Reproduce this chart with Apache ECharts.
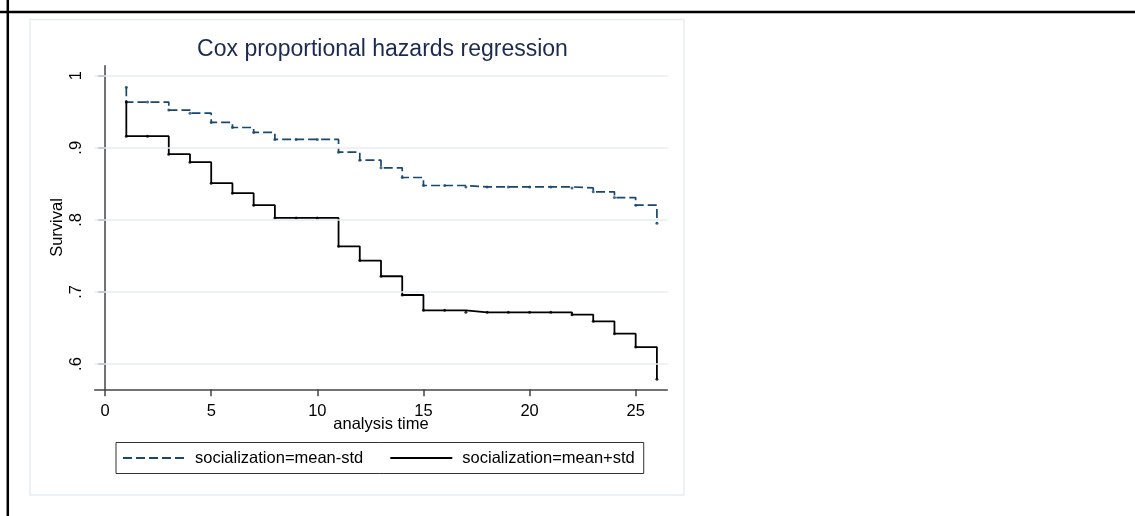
<!DOCTYPE html>
<html>
<head>
    <meta charset="UTF-8">
    <title>Cox proportional hazards regression</title>
    <script type="text/javascript" src="https://cdn.jsdelivr.net/npm/echarts@6/dist/echarts.min.js"></script>
    <style type="text/css">
        html, body { margin: 0; padding: 0; background: #fff; }
        #main { width: 1135px; height: 516px; }
    </style>
</head>
<body>
    <div id="main"></div>

    <script>
    // analysis time of each step point (1 appears twice: start value and first drop)
    var times = [1, 1, 2, 3, 4, 5, 6, 7, 8, 9, 10, 11, 12, 13, 14, 15, 16, 17, 18, 19, 20, 21, 22, 23, 24, 25, 26];
    // socialization=mean-std
    var survLow = [0.984, 0.9634, 0.9634, 0.9523, 0.9481, 0.9352, 0.9282, 0.9213, 0.9116, 0.9116, 0.9116, 0.894, 0.8829, 0.8722,
        0.8588, 0.8477, 0.8477, 0.8458, 0.8458, 0.8458, 0.8458, 0.8458, 0.8444, 0.8389, 0.831, 0.8204, 0.7954];
    // socialization=mean+std
    var survHigh = [0.9634, 0.9162, 0.9162, 0.8912, 0.8801, 0.8509, 0.837, 0.8204, 0.8028, 0.8028, 0.8028, 0.7634, 0.7435, 0.7218,
        0.6958, 0.6745, 0.6745, 0.6718, 0.6718, 0.6718, 0.6718, 0.6718, 0.6685, 0.6593, 0.6421, 0.6236, 0.579];
    var seriesNames = ['socialization=mean-std', 'socialization=mean+std'];
    var xTicks = [0, 5, 10, 15, 20, 25];
    var yTicks = [0.6, 0.7, 0.8, 0.9, 1];

    var font = '"Liberation Sans", Arial, sans-serif';
    var navy = '#1a476f';

    function pairs(ys) {
        return times.map(function (t, i) { return [t, ys[i]]; });
    }

    var myChart = echarts.init(document.getElementById('main'));

    var option = {
        animation: false,
        backgroundColor: '#fff',
        title: {
            text: 'Cox proportional hazards regression',
            left: 377.5,
            top: 33,
            textAlign: 'center',
            textStyle: { fontFamily: font, fontSize: 23, fontWeight: 'normal', color: '#1c2a52' }
        },
        graphic: [
            // faint graph region border
            { type: 'rect', shape: { x: 30, y: 19.5, width: 654, height: 475.5 },
              style: { fill: null, stroke: '#e6eef0', lineWidth: 1.5 }, z: 0 },
            // black frame
            { type: 'line', shape: { x1: 0, y1: 12, x2: 1135, y2: 12 }, style: { stroke: '#000', lineWidth: 2.5 } },
            { type: 'line', shape: { x1: 7.8, y1: 0, x2: 7.8, y2: 516 }, style: { stroke: '#000', lineWidth: 2.5 } }
        ],
        grid: { left: 94.7, right: 467.7, top: 65.7, bottom: 126.7, containLabel: false },
        legend: {
            data: seriesNames,
            left: 116,
            top: 442.5,
            padding: [7, 9, 7, 6],
            itemWidth: 62,
            itemHeight: 14,
            itemGap: 26,
            borderColor: '#333',
            borderWidth: 1,
            backgroundColor: '#fff',
            itemStyle: { opacity: 0 },
            textStyle: { fontFamily: font, fontSize: 16.5, color: '#000', padding: [0, 0, 0, 5] }
        },
        xAxis: {
            type: 'value',
            min: -0.49,
            max: 26.49,
            name: 'analysis time',
            nameLocation: 'middle',
            nameGap: 27,
            nameMoveOverlap: false,
            nameTextStyle: { fontFamily: font, fontSize: 16.5, color: '#000' },
            axisLine: { lineStyle: { color: '#444', width: 1.5 } },
            axisTick: { length: 7, customValues: xTicks, lineStyle: { color: '#444', width: 1.5 } },
            axisLabel: { customValues: xTicks, margin: 14, fontFamily: font, fontSize: 16.5, color: '#000' },
            splitLine: { show: false }
        },
        yAxis: {
            type: 'value',
            min: 0.565,
            max: 1.0139,
            name: 'Survival',
            nameLocation: 'middle',
            nameGap: 29,
            nameMoveOverlap: false,
            nameTextStyle: { fontFamily: font, fontSize: 16.5, color: '#000' },
            axisLine: { show: true, lineStyle: { color: '#444', width: 1.5 } },
            axisTick: { show: true, length: 7, customValues: yTicks, lineStyle: { color: '#444', width: 1.5 } },
            axisLabel: {
                customValues: yTicks,
                rotate: 90,
                margin: 10,
                fontFamily: font,
                fontSize: 16.5,
                color: '#000',
                formatter: function (v) {
                    return v >= 1 ? '1' : '.' + Math.round(v * 10);
                }
            },
            splitLine: { show: false }
        },
        series: [
            {
                // horizontal grid lines
                name: 'grid',
                type: 'line',
                data: [[0, 0.6]],
                symbol: 'none',
                lineStyle: { opacity: 0 },
                silent: true,
                z: 1,
                markLine: {
                    silent: true,
                    symbol: 'none',
                    label: { show: false },
                    lineStyle: { color: '#e6eef0', width: 1.5, type: 'solid' },
                    data: yTicks.map(function (v) { return { yAxis: v }; })
                }
            },
            {
                name: seriesNames[0],
                type: 'line',
                step: 'end',
                data: pairs(survLow),
                symbol: 'none',
                z: 3,
                lineStyle: { color: navy, width: 1.7, type: [9, 4] },
                itemStyle: { color: navy }
            },
            {
                name: seriesNames[1],
                type: 'line',
                step: 'end',
                data: pairs(survHigh),
                symbol: 'none',
                z: 3,
                lineStyle: { color: '#000', width: 1.8 },
                itemStyle: { color: '#000' }
            },
            {
                type: 'scatter',
                data: pairs(survLow),
                symbolSize: 3,
                z: 4,
                itemStyle: { color: navy }
            },
            {
                type: 'scatter',
                data: pairs(survHigh),
                symbolSize: 3,
                z: 4,
                itemStyle: { color: '#000' }
            }
        ]
    };

    myChart.setOption(option);
    </script>
</body>
</html>
